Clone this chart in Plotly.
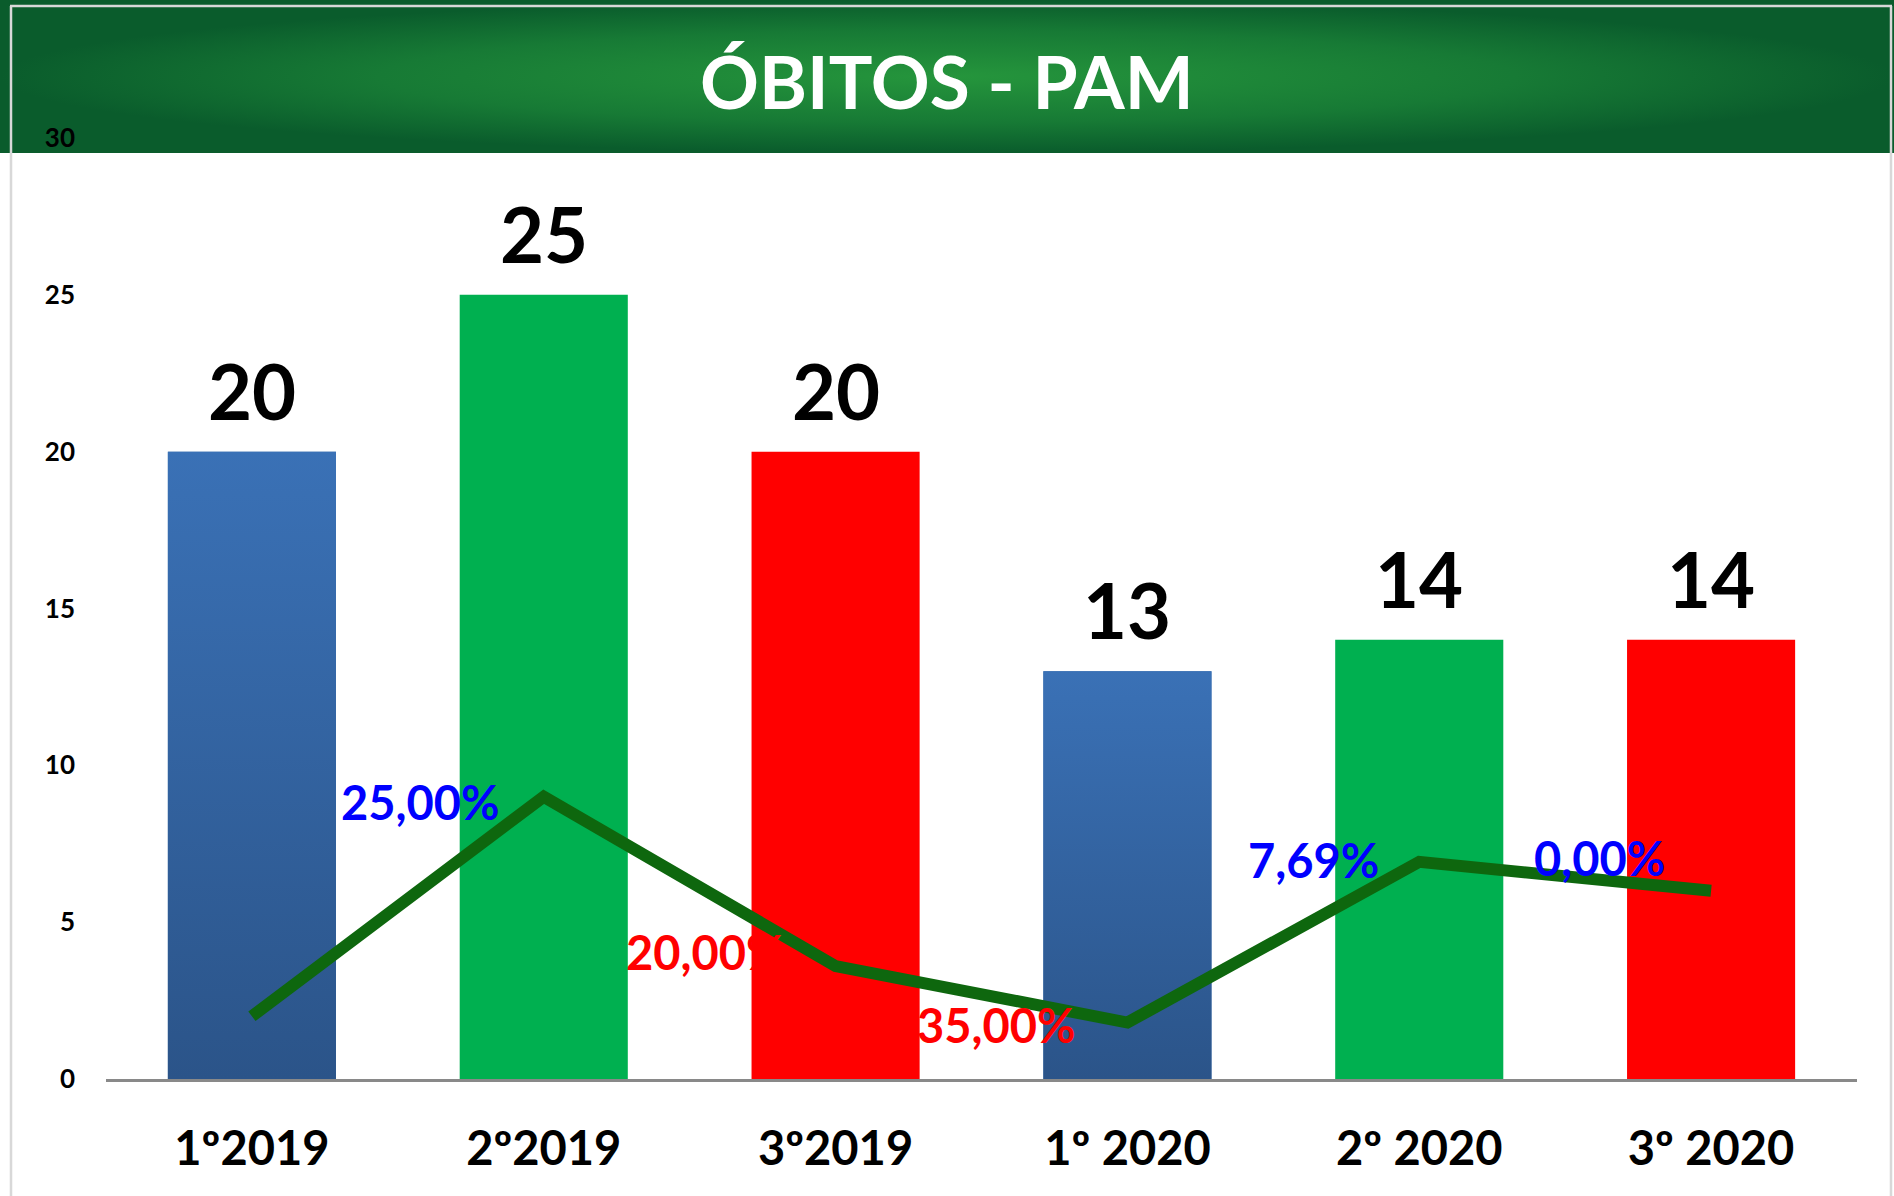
import plotly.graph_objects as go

# Quarterly deaths (PAM) and quarter-over-quarter variation
categories = ["1º2019", "2º2019", "3º2019", "1º 2020", "2º 2020", "3º 2020"]
obitos = [20, 25, 20, 13, 14, 14]
variacao = [-0.3333, 0.25, -0.20, -0.35, 0.0769, 0.0]
show_var_label = [False, True, True, True, True, True]
y_ticks = [0, 5, 10, 15, 20, 25, 30]

bar_colors = ["#3068A8", "#00B050", "#FF0000", "#3068A8", "#00B050", "#FF0000"]
blue_grad = [[0, "#2B5489"], [1, "#3A71B6"]]
var_label_dx = [0, -42, -49, -49, -38, -44]
var_label_dy = [0, -5, 14, -2, 2, 33]

W, H = 1894, 1196
BAR_W = 0.576
FONT = "Lato"

x_dom = [106 / W, 1857 / W]
y_dom = [117 / H, 1058 / H]

fig = go.Figure()

# header band with a soft radial green gradient
fig.add_trace(go.Scatter(
    x=[0, 1, 1, 0, 0], y=[0, 0, 1, 1, 0],
    xaxis="x", yaxis="y", mode="lines", fill="toself",
    line=dict(width=0, color="rgba(0,0,0,0)"),
    fillgradient=dict(type="radial", colorscale=[[0, "#25953C"], [0.6, "#177A35"], [1, "#0A5C2C"]]),
    hoverinfo="skip", showlegend=False,
))

# bars
fig.add_trace(go.Bar(
    x=list(range(len(categories))), y=obitos, width=BAR_W,
    marker=dict(color=bar_colors, line=dict(width=0)),
    xaxis="x2", yaxis="y2", showlegend=False, hoverinfo="skip",
))

# vertical shading on the blue bars
for i, (v, c) in enumerate(zip(obitos, bar_colors)):
    if c != "#3068A8":
        continue
    x0, x1 = i - BAR_W / 2, i + BAR_W / 2
    fig.add_trace(go.Scatter(
        x=[x0, x1, x1, x0, x0], y=[0, 0, v, v, 0],
        xaxis="x2", yaxis="y2", mode="lines", fill="toself",
        line=dict(width=0, color="rgba(0,0,0,0)"),
        fillgradient=dict(type="vertical", colorscale=blue_grad, start=0, stop=v),
        hoverinfo="skip", showlegend=False,
    ))

# variation line on its own (hidden) scale
fig.add_trace(go.Scatter(
    x=list(range(len(categories))), y=variacao,
    xaxis="x2", yaxis="y3", mode="lines",
    line=dict(color="#0E670E", width=12),
    hoverinfo="skip", showlegend=False,
))

annotations = []
# value labels over the bars
for i, v in enumerate(obitos):
    annotations.append(dict(
        x=i, y=v, xref="x2", yref="y2", text=str(v), showarrow=False,
        xanchor="center", yanchor="bottom", yshift=14,
        font=dict(family=FONT, size=76, color="#000000", weight="bold"),
    ))

# variation labels
for i, p in enumerate(variacao):
    if not show_var_label[i]:
        continue
    txt = f"{abs(p) * 100:.2f}".replace(".", ",") + "%"
    annotations.append(dict(
        x=i, y=p, xref="x2", yref="y3", text=txt, showarrow=False,
        xanchor="right", yanchor="middle", xshift=var_label_dx[i], yshift=var_label_dy[i],
        font=dict(family=FONT, size=47, color="#0000FF" if p >= 0 else "#FF0000", weight="bold"),
    ))

# title
annotations.append(dict(
    x=0.5, y=1 - 81 / H, xref="paper", yref="paper", text="ÓBITOS - PAM",
    showarrow=False, xanchor="center", yanchor="middle",
    font=dict(family=FONT, size=73, color="#FFFFFF", weight="bold"),
))

frame = "#D8D8D8"
shapes = [
    dict(type="line", xref="paper", yref="paper", x0=10 / W, x1=1892 / W,
         y0=1 - 6 / H, y1=1 - 6 / H, line=dict(color=frame, width=2.5), layer="above"),
    dict(type="line", xref="paper", yref="paper", x0=11 / W, x1=11 / W,
         y0=0, y1=1 - 6 / H, line=dict(color=frame, width=2.5), layer="above"),
    dict(type="line", xref="paper", yref="paper", x0=1891 / W, x1=1891 / W,
         y0=0, y1=1 - 6 / H, line=dict(color=frame, width=2.5), layer="above"),
]

fig.update_layout(
    width=W, height=H,
    margin=dict(l=0, r=0, t=0, b=0),
    paper_bgcolor="#FFFFFF", plot_bgcolor="rgba(0,0,0,0)",
    showlegend=False,
    xaxis=dict(domain=[0, 1], range=[0, 1], visible=False, fixedrange=True),
    yaxis=dict(domain=[1 - 153 / H, 1], range=[0, 1], visible=False, fixedrange=True),
    xaxis2=dict(
        domain=x_dom, range=[-0.5, len(categories) - 0.5], anchor="y2",
        tickmode="array", tickvals=list(range(len(categories))), ticktext=categories,
        showgrid=False, zeroline=False, showline=True, linecolor="#898989", linewidth=3,
        ticks="", ticklabelstandoff=27, automargin=False,
        tickfont=dict(family=FONT, size=47, color="#000000", weight="bold"),
    ),
    yaxis2=dict(
        domain=y_dom, range=[0, 30], anchor="x2",
        tickmode="array", tickvals=y_ticks,
        showgrid=False, zeroline=False, showline=False, ticks="",
        ticklabelstandoff=30, automargin=False,
        tickfont=dict(family=FONT, size=26, color="#000000", weight="bold"),
    ),
    yaxis3=dict(overlaying="y2", anchor="x2", range=[-0.5, 2.0], visible=False),
    annotations=annotations,
    shapes=shapes,
)

fig.write_html("out.html")
